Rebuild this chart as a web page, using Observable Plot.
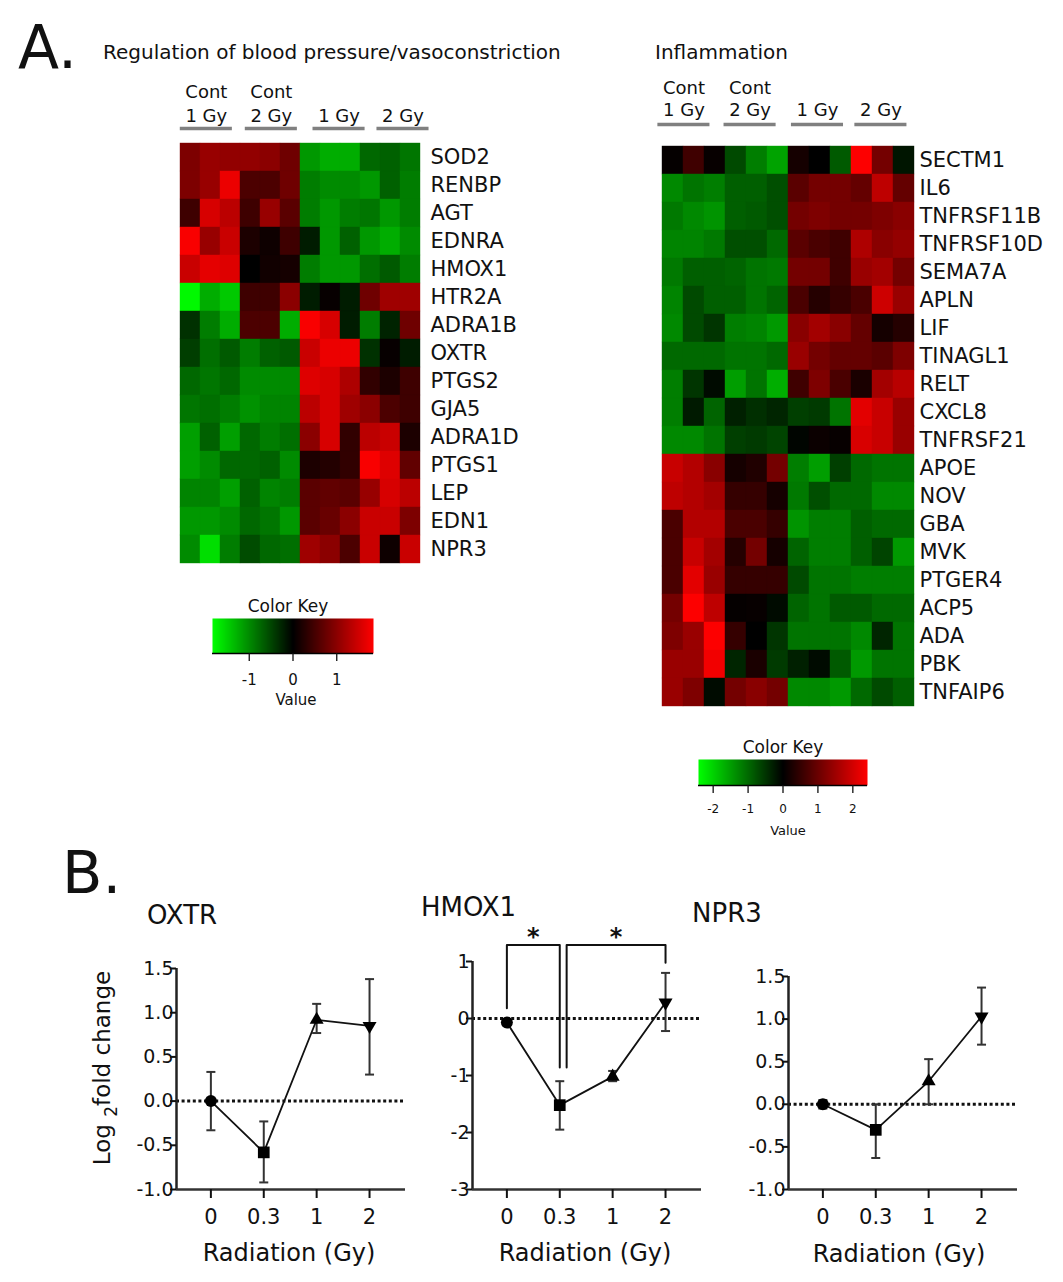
<!DOCTYPE html>
<html><head><meta charset="utf-8">
<script src="https://cdn.jsdelivr.net/npm/d3@7"></script>
<script src="https://cdn.jsdelivr.net/npm/@observablehq/plot@0.6"></script>
<style>
body{margin:0;background:#fff;}
#fig{position:relative;width:1063px;height:1282px;overflow:hidden;font-family:"DejaVu Sans",sans-serif;color:#111;}
</style></head><body><div id="fig"></div>
<script>
// ---------------- DATA ----------------
const samples = ["s1","s2","s3","s4","s5","s6","s7","s8","s9","s10","s11","s12"];
const sampleGroups = ["Cont\n1 Gy", "Cont\n2 Gy", "1 Gy", "2 Gy"];

const bpGenes = ["SOD2","RENBP","AGT","EDNRA","HMOX1","HTR2A","ADRA1B","OXTR","PTGS2","GJA5","ADRA1D","PTGS1","LEP","EDN1","NPR3"];
const bpMatrix = [
  [0.9, 1.1, 1.05, 1.05, 1.0, 0.8, -1.1, -1.25, -1.25, -0.75, -0.7, -0.85],
  [0.9, 1.1, 1.7, 0.55, 0.55, 0.8, -0.9, -1.0, -1.0, -1.1, -0.7, -0.9],
  [0.45, 1.55, 1.35, 0.45, 1.1, 0.65, -0.9, -1.1, -0.9, -0.85, -1.1, -0.9],
  [1.8, 1.1, 1.45, 0.2, 0.1, 0.45, -0.2, -1.1, -0.7, -1.1, -1.25, -1.0],
  [1.45, 1.65, 1.6, 0.0, 0.12, 0.15, -0.9, -1.1, -1.1, -0.8, -0.65, -0.9],
  [-1.8, -1.25, -1.45, 0.45, 0.45, 1.0, -0.2, 0.05, -0.2, 0.8, 1.15, 1.15],
  [-0.35, -0.9, -1.25, 0.55, 0.55, -1.25, 1.8, 1.55, -0.2, -0.9, -0.25, 0.8],
  [-0.45, -0.8, -0.65, -0.9, -0.7, -0.65, 1.45, 1.7, 1.7, -0.35, 0.05, -0.2],
  [-0.75, -0.85, -0.75, -1.0, -1.0, -1.0, 1.6, 1.55, 1.25, 0.35, 0.2, 0.45],
  [-0.85, -0.8, -0.9, -1.05, -0.95, -0.95, 1.35, 1.55, 1.15, 1.0, 0.55, 0.45],
  [-1.15, -0.7, -1.15, -0.75, -0.9, -0.8, 1.0, 1.55, 0.35, 1.35, 1.45, 0.2],
  [-1.15, -1.0, -0.75, -0.75, -0.7, -1.0, 0.2, 0.25, 0.35, 1.8, 1.6, 0.7],
  [-0.95, -0.95, -1.15, -0.7, -0.95, -0.9, 0.65, 0.7, 0.65, 1.1, 1.55, 1.35],
  [-1.1, -1.1, -1.0, -0.75, -0.85, -1.1, 0.65, 0.75, 1.0, 1.45, 1.45, 0.9],
  [-1.0, -1.6, -0.9, -0.55, -0.75, -0.8, 1.15, 1.0, 0.55, 1.45, 0.1, 1.45]
];
const bpKeyMax = 1.84;
const bpKeyTicks = [-1, 0, 1];

const inflGenes = ["SECTM1","IL6","TNFRSF11B","TNFRSF10D","SEMA7A","APLN","LIF","TINAGL1","RELT","CXCL8","TNFRSF21","APOE","NOV","GBA","MVK","PTGER4","ACP5","ADA","PBK","TNFAIP6"];
const inflMatrix = [
  [0.05, 0.6, 0.07, -0.7, -1.2, -1.55, 0.2, 0.0, -0.85, 2.4, 1.1, -0.2],
  [-1.3, -1.1, -1.2, -0.9, -0.9, -0.75, 0.85, 1.1, 1.1, 0.95, 1.8, 0.95],
  [-1.15, -1.3, -1.4, -0.9, -0.85, -0.75, 1.1, 1.2, 1.1, 1.1, 1.2, 1.3],
  [-1.25, -1.25, -1.15, -0.75, -0.75, -1.0, 0.85, 0.7, 0.6, 1.65, 1.3, 1.4],
  [-1.15, -0.9, -0.9, -0.95, -1.1, -1.15, 1.1, 1.1, 0.6, 1.45, 1.55, 1.1],
  [-1.25, -0.7, -0.9, -0.9, -1.1, -0.95, 0.7, 0.35, 0.5, 0.7, 1.95, 1.45],
  [-1.3, -0.7, -0.5, -1.2, -1.25, -1.45, 1.3, 1.55, 1.3, 0.95, 0.2, 0.35],
  [-1.0, -1.0, -1.0, -1.1, -1.1, -1.0, 1.45, 1.1, 0.95, 0.95, 0.85, 1.2],
  [-1.2, -0.5, -0.1, -1.5, -1.1, -1.65, 0.6, 1.2, 0.7, 0.25, 1.55, 1.75],
  [-1.2, -0.25, -0.95, -0.3, -0.45, -0.35, -0.6, -0.55, -1.1, 2.15, 1.9, 1.45],
  [-1.3, -1.3, -1.1, -0.6, -0.55, -0.65, -0.05, 0.1, 0.07, 2.05, 1.9, 1.45],
  [1.9, 1.7, 1.3, 0.2, 0.3, 1.1, -1.2, -1.5, -0.6, -1.0, -1.1, -1.1],
  [1.8, 1.7, 1.55, 0.5, 0.5, 0.2, -1.15, -0.75, -1.0, -1.0, -1.3, -1.3],
  [0.7, 1.7, 1.7, 0.7, 0.7, 0.5, -1.4, -1.2, -1.2, -0.9, -1.0, -1.0],
  [0.7, 1.9, 1.55, 0.35, 1.1, 0.2, -0.95, -1.2, -1.2, -0.9, -0.65, -1.45],
  [0.7, 2.15, 1.45, 0.5, 0.5, 0.5, -0.7, -1.1, -1.1, -1.2, -1.2, -1.2],
  [1.1, 2.4, 1.8, 0.05, 0.07, -0.1, -0.95, -1.1, -0.85, -0.85, -1.0, -1.0],
  [1.2, 1.45, 2.4, 0.5, 0.0, -0.5, -1.1, -1.1, -1.1, -1.3, -0.35, -1.1],
  [1.45, 1.45, 2.3, -0.35, 0.25, -0.55, -0.3, -0.1, -0.85, -1.45, -1.1, -1.1],
  [1.45, 1.2, -0.1, 1.1, 1.3, 1.1, -1.3, -1.3, -1.45, -1.0, -0.7, -0.9]
];
const inflKeyMax = 2.42;
const inflKeyTicks = [-2, -1, 0, 1, 2];

const doses = ["0", "0.3", "1", "2"];
const oxtrMean = [0, -0.58, 0.92, 0.85];
const oxtrLow  = [-0.33, -0.92, 0.77, 0.30];
const oxtrHigh = [0.33, -0.23, 1.10, 1.38];
const hmoxMean = [-0.07, -1.52, -1.02, 0.28];
const hmoxLow  = [-0.10, -1.95, -1.10, -0.22];
const hmoxHigh = [-0.04, -1.10, -0.92, 0.80];
const npr3Mean = [0, -0.30, 0.27, 1.03];
const npr3Low  = [-0.05, -0.63, 0.00, 0.70];
const npr3High = [0.05, 0.00, 0.53, 1.37];
const hmoxBrackets = [
  {from: 0, to: 1, top: 1.29, fromEnd: 0.18, toEnd: -0.86, label: "*"},
  {from: 1.13, to: 3, top: 1.29, fromEnd: -0.86, toEnd: 0.98, label: "*"}
];

// ---------------- LAYOUT / STYLE ----------------
const FONT = '"DejaVu Sans", sans-serif';
const fig = document.getElementById("fig");
function place(node, left, top) {
  node.style.position = "absolute";
  node.style.left = left + "px";
  node.style.top = top + "px";
  node.style.maxWidth = "none";
  fig.appendChild(node);
}
const baseStyle = (fs) => ({fontFamily: FONT, fontSize: fs, color: "#111", background: "transparent", overflow: "visible"});
function heatColor(m) {
  return {type: "linear", domain: [-m, 0, m], range: ["#00ff00", "#000000", "#ff0000"], interpolate: "rgb", clamp: true};
}

const leftHM = {left: 175, top: 138, cellW: 250 / 12, cellH: 429 / 15, labelW: 115};
const rightHM = {left: 662, top: 137, cellW: 21, cellH: 577 / 20, labelW: 140};
const leftHead = {height: 68, lineY: 10, bottomY: 22, topY: 46, half: 1.25, centers: [1.48, 4.6, 7.85, 10.92]};
const rightHead = {height: 71, lineY: 13, bottomY: 27, topY: 49, half: 1.24, centers: [1.02, 4.17, 7.38, 10.4]};

function drawHeatmap(genes, matrix, maxAbs, L) {
  const cells = genes.flatMap((gene, r) => matrix[r].map((value, c) => ({gene, sample: samples[c], value})));
  const w = L.cellW * samples.length, h = L.cellH * genes.length;
  const plot = Plot.plot({
    width: w + L.labelW, height: h,
    marginLeft: 0, marginRight: L.labelW, marginTop: 0, marginBottom: 0,
    x: {domain: samples, padding: 0, axis: null},
    y: {domain: genes, padding: 0, axis: "right", tickSize: 0, tickPadding: 5, label: null},
    color: heatColor(maxAbs),
    style: baseStyle("21px"),
    marks: [Plot.cell(cells, {x: "sample", y: "gene", fill: "value", stroke: "value", strokeWidth: 0.4})]
  });
  place(plot, L.left, L.top);
}

function drawHeader(L, H) {
  const groups = sampleGroups.map((label, i) => {
    const lines = label.split("\n");
    return {top: lines.length > 1 ? lines[0] : "", bottom: lines[lines.length - 1], pos: H.centers[i]};
  });
  const w = L.cellW * samples.length;
  const plot = Plot.plot({
    width: w + L.labelW, height: H.height,
    marginLeft: 0, marginRight: L.labelW, marginTop: 0, marginBottom: 0,
    x: {domain: [0, samples.length], axis: null},
    y: {domain: [0, H.height], axis: null},
    style: baseStyle("18px"),
    marks: [
      Plot.ruleY(groups, {x1: d => d.pos - H.half, x2: d => d.pos + H.half, y: H.lineY, stroke: "#808080", strokeWidth: 3.5}),
      Plot.text(groups, {x: "pos", y: H.bottomY, text: "bottom", fontSize: 18, fill: "#111"}),
      Plot.text(groups, {x: "pos", y: H.topY, text: "top", fontSize: 18, fill: "#111"})
    ]
  });
  place(plot, L.left, L.top - H.height);
}

function drawKey(maxAbs, ticks, K) {
  const marks = [];
  if (typeof Plot.raster === "function") {
    marks.push(Plot.raster({x1: -maxAbs, x2: maxAbs, y1: 0, y2: 1, fill: (x, y) => x}));
  } else {
    const bins = d3.range(-maxAbs, maxAbs, maxAbs / 80).map(v => ({a: v, b: v + maxAbs / 80}));
    marks.push(Plot.rect(bins, {x1: "a", x2: "b", y1: 0, y2: 1, fill: "a"}));
  }
  marks.push(Plot.ruleY([0], {stroke: "#000", strokeWidth: 1.5}));
  marks.push(Plot.axisX({ticks, tickFormat: d => String(d), tickSize: K.tickSize, tickPadding: K.tickPadding, fontSize: K.fontSize, label: null, strokeWidth: 1.3}));
  const plot = Plot.plot({
    width: K.w + 30, height: K.h + 2 + 40,
    marginLeft: 15, marginRight: 15, marginTop: 2, marginBottom: 40,
    x: {domain: [-maxAbs, maxAbs]},
    y: {domain: [0, 1], axis: null},
    color: heatColor(maxAbs),
    style: baseStyle(K.fontSize + "px"),
    marks
  });
  place(plot, K.left - 15, K.top - 2);
}

const triangleDown = {draw(ctx, size) {
  const y = -Math.sqrt(size / (Math.sqrt(3) * 3));
  ctx.moveTo(0, -y * 2); ctx.lineTo(-Math.sqrt(3) * y, y); ctx.lineTo(Math.sqrt(3) * y, y); ctx.closePath();
}};
const capSymbol = {draw(ctx, size) {
  const w = Math.sqrt(size / Math.PI);
  ctx.moveTo(-w, 0); ctx.lineTo(w, 0);
}};
const markerShapes = ["circle", "square", "triangle", triangleDown];
const markerR = [6, 6.6, 5.2, 5.2];
const xDomainB = [-0.65, 3.68];

function drawPanel(P) {
  const pts = doses.map((dose, i) => ({i, mean: P.mean[i], low: P.low[i], high: P.high[i]}));
  const marks = [
    Plot.ruleY([0], {stroke: "#111", strokeWidth: 3, strokeDasharray: "3,2.6"}),
    Plot.ruleX([xDomainB[0]], {stroke: "#222", strokeWidth: 2.5}),
    Plot.ruleY([P.yDomain[0]], {stroke: "#333", strokeWidth: 2.5}),
    Plot.axisX({ticks: [0, 1, 2, 3], tickFormat: i => doses[i], tickSize: 9, tickPadding: 11, fontSize: 21, label: null, strokeWidth: 2}),
    Plot.axisY({ticks: P.yTicks, tickFormat: P.fmt, tickSize: 6, tickPadding: -3, fontSize: 19, label: null, strokeWidth: 2}),
    Plot.ruleX(pts, {x: "i", y1: "low", y2: "high", stroke: "#333", strokeWidth: 2}),
    Plot.dot(pts, {x: "i", y: "low", symbol: capSymbol, r: 4.5, stroke: "#333", strokeWidth: 2, fill: "none"}),
    Plot.dot(pts, {x: "i", y: "high", symbol: capSymbol, r: 4.5, stroke: "#333", strokeWidth: 2, fill: "none"}),
    Plot.line(pts, {x: "i", y: "mean", stroke: "#111", strokeWidth: 1.8}),
    ...pts.map((p, k) => Plot.dot([p], {x: "i", y: "mean", symbol: markerShapes[k], r: markerR[k], fill: "#000", stroke: "none"}))
  ];
  if (P.brackets) {
    for (const b of P.brackets) {
      marks.push(Plot.line([[b.from, b.fromEnd], [b.from, b.top], [b.to, b.top], [b.to, b.toEnd]], {stroke: "#111", strokeWidth: 2}));
    }
    marks.push(Plot.text(P.brackets, {x: d => (d.from + d.to) / 2, y: "top", dy: -8, text: "label", fontSize: 24, fontWeight: "bold", fill: "#111"}));
  }
  const mt = P.marginTop, mb = 42, ml = 50, mr = 5;
  const plot = Plot.plot({
    width: ml + 229 + mr, height: mt + P.frameH + mb,
    marginLeft: ml, marginRight: mr, marginTop: mt, marginBottom: mb,
    x: {domain: xDomainB},
    y: {domain: P.yDomain},
    style: baseStyle("19px"),
    marks
  });
  place(plot, P.axisLeft - ml, P.frameTop - mt);
}

// ---------------- DRAW ----------------
drawHeatmap(bpGenes, bpMatrix, bpKeyMax, leftHM);
drawHeader(leftHM, leftHead);
drawHeatmap(inflGenes, inflMatrix, inflKeyMax, rightHM);
drawHeader(rightHM, rightHead);
drawKey(bpKeyMax, bpKeyTicks, {left: 212, top: 618, w: 161, h: 35, tickSize: 8, tickPadding: 13, fontSize: 15});
drawKey(inflKeyMax, inflKeyTicks, {left: 698, top: 759, w: 169, h: 26, tickSize: 8, tickPadding: 11, fontSize: 12});

const fmt1 = d => d.toFixed(1);
drawPanel({mean: oxtrMean, low: oxtrLow, high: oxtrHigh, yDomain: [-1, 1.5], yTicks: [-1, -0.5, 0, 0.5, 1, 1.5], fmt: fmt1,
  axisLeft: 176, frameTop: 968, frameH: 221, marginTop: 30});
drawPanel({mean: hmoxMean, low: hmoxLow, high: hmoxHigh, yDomain: [-3, 1], yTicks: [-3, -2, -1, 0, 1], fmt: d => String(d),
  axisLeft: 472, frameTop: 961, frameH: 228, marginTop: 50, brackets: hmoxBrackets});
drawPanel({mean: npr3Mean, low: npr3Low, high: npr3High, yDomain: [-1, 1.5], yTicks: [-1, -0.5, 0, 0.5, 1, 1.5], fmt: fmt1,
  axisLeft: 788, frameTop: 976, frameH: 213, marginTop: 30});

// ---------------- TEXT OVERLAY ----------------
const ov = d3.create("svg").attr("width", 1063).attr("height", 1282)
  .style("position", "absolute").style("left", "0px").style("top", "0px")
  .style("pointer-events", "none").attr("font-family", FONT).attr("fill", "#111");
function txt(x, y, s, size, anchor = "start") {
  return ov.append("text").attr("x", x).attr("y", y).attr("font-size", size).attr("text-anchor", anchor).text(s);
}
txt(18, 68, "A.", 60);
txt(103, 59, "Regulation of blood pressure/vasoconstriction", 20);
txt(655, 59, "Inflammation", 20);
txt(288, 612, "Color Key", 17, "middle");
txt(296, 705, "Value", 15, "middle");
txt(783, 753, "Color Key", 17, "middle");
txt(788, 835, "Value", 13, "middle");
txt(62, 893, "B.", 59);
txt(147, 924, "OXTR", 26);
txt(421, 916, "HMOX1", 26);
txt(692, 922, "NPR3", 26);
txt(289, 1261, "Radiation (Gy)", 24, "middle");
txt(585, 1261, "Radiation (Gy)", 24, "middle");
txt(899, 1262, "Radiation (Gy)", 24, "middle");
const yl = ov.append("text").attr("transform", "translate(110,1068) rotate(-90)").attr("text-anchor", "middle").attr("font-size", 23);
yl.append("tspan").text("Log ");
yl.append("tspan").attr("dy", 7).attr("font-size", 17).text("2");
yl.append("tspan").attr("dy", -7).text("fold change");
fig.appendChild(ov.node());
</script>
</body></html>
